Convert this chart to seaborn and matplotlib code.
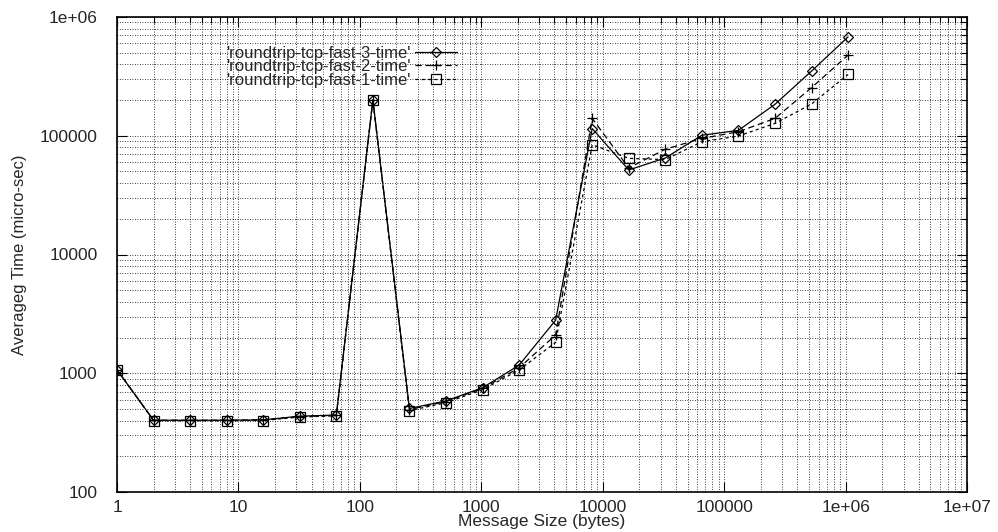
import matplotlib
matplotlib.use("Agg")
import matplotlib.pyplot as plt
import matplotlib.ticker as mticker
import seaborn as sns
import numpy as np
import pandas as pd

sizes = [1, 2, 4, 8, 16, 32, 64, 128, 256, 512, 1024, 2048, 4096, 8192,
         16384, 32768, 65536, 131072, 262144, 524288, 1048576]
fast3 = [1070, 402, 402, 402, 405, 435, 445, 200000, 505, 585, 755, 1170, 2800,
         115000, 51500, 65000, 101000, 111000, 184000, 350000, 680000]
fast2 = [1070, 402, 402, 402, 405, 432, 442, 200000, 495, 578, 745, 1110, 2100,
         140000, 53500, 77000, 95000, 108000, 140000, 254000, 478000]
fast1 = [1070, 398, 398, 398, 400, 428, 438, 200000, 484, 565, 727, 1065, 1820,
         84000, 64500, 63000, 89000, 99500, 127000, 185000, 328000]
labels = ["'roundtrip-tcp-fast-3-time'", "'roundtrip-tcp-fast-2-time'",
          "'roundtrip-tcp-fast-1-time'"]
x_ticks = [1, 10, 100, 1000, 10000, 100000, 1e6, 1e7]
x_ticklabels = ["1", "10", "100", "1000", "10000", "100000", "1e+06", "1e+07"]
y_ticks = [100, 1000, 10000, 100000, 1e6]
y_ticklabels = ["100", "1000", "10000", "100000", "1e+06"]

sns.set_style("white")
plt.rcParams['font.family'] = ['Liberation Sans', 'DejaVu Sans']

fig = plt.figure(figsize=(9.98, 5.32), dpi=100)
ax = fig.add_axes([117/998, 40/532, 850/998, 475/532])

styles = [
    dict(marker='D', markersize=5, linestyle='-', linewidth=0.9),
    dict(marker='+', markersize=7, linestyle=(0, (5, 3)), linewidth=0.9),
    dict(marker='s', markersize=7, linestyle=(0, (2.5, 2.5)), linewidth=0.9),
]
for vals, lab, st in zip([fast3, fast2, fast1], labels, styles):
    df = pd.DataFrame({"size": sizes, "time": vals})
    sns.lineplot(data=df, x="size", y="time", ax=ax, color='black',
                 markerfacecolor='none', markeredgecolor='black',
                 markeredgewidth=0.9, label=lab, **st)

ax.set_xscale('log')
ax.set_yscale('log')
ax.set_xlim(1, 1e7)
ax.set_ylim(100, 1e6)
ax.xaxis.set_major_locator(mticker.FixedLocator(x_ticks))
ax.xaxis.set_major_formatter(mticker.FixedFormatter(x_ticklabels))
ax.yaxis.set_major_locator(mticker.FixedLocator(y_ticks))
ax.yaxis.set_major_formatter(mticker.FixedFormatter(y_ticklabels))
ax.xaxis.set_minor_locator(mticker.LogLocator(base=10, subs=np.arange(2, 10), numticks=20))
ax.yaxis.set_minor_locator(mticker.LogLocator(base=10, subs=np.arange(2, 10), numticks=20))
ax.xaxis.set_minor_formatter(mticker.NullFormatter())
ax.yaxis.set_minor_formatter(mticker.NullFormatter())

ax.grid(True, which='both', color='black', linestyle=(0, (1, 2)), linewidth=0.6)
ax.tick_params(which='minor', direction='in', top=True, right=True, length=4, width=0.8, color='black')
ax.tick_params(axis='y', which='major', direction='in', left=True, right=True,
               length=7, width=0.8, labelsize=12.5, pad=14, color='black')
ax.tick_params(axis='x', which='major', direction='in', bottom=True, top=True,
               length=7, width=0.8, labelsize=12.5, pad=6, color='black')
for s in ax.spines.values():
    s.set_color('black')
    s.set_linewidth(1.2)

ax.set_xlabel("Message Size (bytes)", fontsize=12.5, labelpad=-1)
ax.set_ylabel("Averageg Time (micro-sec)", fontsize=12, labelpad=9)

leg = ax.legend(loc='upper right', bbox_to_anchor=(457/998, 1 - 46/532),
                bbox_transform=fig.transFigure, frameon=False,
                markerfirst=False, fontsize=12, handlelength=2.5,
                handletextpad=0.3, labelspacing=-0.1, borderpad=0, borderaxespad=0)

fig.savefig("out.png", dpi=100)
